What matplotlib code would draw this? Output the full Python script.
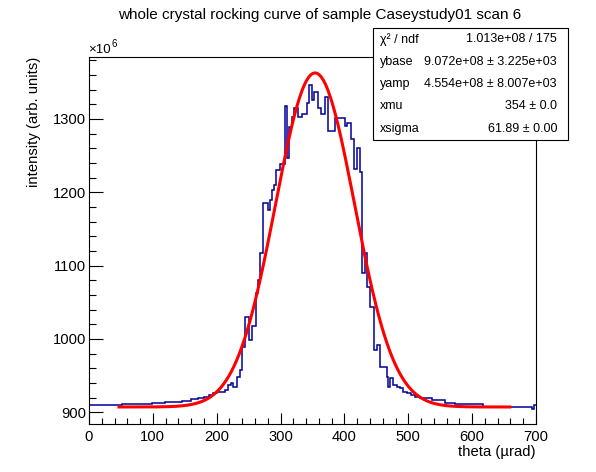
import numpy as np
import matplotlib
matplotlib.use('Agg')
import matplotlib.pyplot as plt
from matplotlib.patches import Rectangle
from matplotlib.ticker import MultipleLocator

plt.rcParams['font.family'] = ['Liberation Sans', 'DejaVu Sans']

# histogram outline (theta in urad, intensity in units of 1e6)
edges = [0, 52, 98, 119, 135, 146, 159, 170, 180, 188,
         194, 200, 213, 218, 223, 226, 231, 236, 240, 245,
         251, 255, 261.5, 265, 268, 272, 281, 283, 286, 289,
         293, 299, 307, 310.5, 313.7, 317.5, 321, 327.4, 333, 342,
         345, 349, 352.5, 359, 363, 370, 373.5, 386, 395, 401,
         403.5, 410, 415, 419, 424.5, 428, 432, 436, 440, 447,
         450.5, 455.7, 466, 469, 471.4, 476.6, 482, 487, 492, 497.5,
         505, 510.5, 518.4, 537, 557, 573, 617, 694, 697, 700]
counts = [910, 911, 912, 913.6, 914.5, 916, 917.6, 919, 920.4, 923.6,
          926.7, 928, 930.4, 937, 939.5, 935, 948.6, 957.7, 989.5, 1030,
          998.6, 1017.7, 1062, 1080, 1117, 1185, 1176, 1190, 1203, 1210,
          1230, 1238, 1317, 1246, 1289.5, 1303, 1315, 1303, 1306, 1321,
          1346, 1326, 1337, 1315, 1306, 1330, 1284, 1301, 1301, 1290,
          1294, 1273, 1232, 1260, 1227, 1089.5, 1117, 1071, 1044, 985,
          992, 962, 948.5, 935, 946.5, 937, 935, 932.7, 928, 926,
          923.6, 921.4, 919, 917, 913, 911, 907.5, 904.5, 910]

# fit result shown in the stats box
ybase = 907.2
yamp = 455.4
xmu = 354.0
xsigma = 61.89
fit_range = (47, 659)

stat_names = ['χ² / ndf', 'ybase', 'yamp', 'xmu', 'xsigma']
stat_values = ['1.013e+08 / 175', '9.072e+08 ± 3.225e+03', '4.554e+08 ± 8.007e+03',
               '354 ± 0.0', '61.89 ± 0.00']

W, H = 596, 472
fig = plt.figure(figsize=(W / 100, H / 100), dpi=100)
ax = fig.add_axes([89 / W, 1 - 424 / H, (536 - 89) / W, (424 - 56.5) / H])

ax.stairs(counts, edges, color='#000099', lw=1.1, baseline=None)
xf = np.linspace(fit_range[0], fit_range[1], 300)
yf = ybase + yamp * np.exp(-0.5 * ((xf - xmu) / xsigma) ** 2)
ax.plot(xf, yf, color='#ff0000', lw=2.2)

ax.set_xlim(0, 700)
ax.set_ylim(884, 1385)
ax.xaxis.set_major_locator(MultipleLocator(100))
ax.xaxis.set_minor_locator(MultipleLocator(20))
ax.yaxis.set_major_locator(MultipleLocator(100))
ax.yaxis.set_minor_locator(MultipleLocator(20))
ax.tick_params(which='both', direction='in', top=False, right=False, width=0.8, labelsize=10.6)
ax.tick_params(axis='x', which='major', length=8, pad=4)
ax.tick_params(axis='x', which='minor', length=4)
ax.tick_params(axis='y', which='major', length=10, pad=2)
ax.tick_params(axis='y', which='minor', length=5)
for s in ax.spines.values():
    s.set_linewidth(0.8)

fig.text(320 / W, 1 - 15 / H, 'whole crystal rocking curve of sample Caseystudy01 scan 6',
         ha='center', va='center', fontsize=11)
fig.text(536 / W, 1 - 452 / H, 'theta (µrad)', ha='right', va='center', fontsize=10.7)
fig.text(34 / W, 1 - 56.5 / H, 'intensity (arb. units)', ha='center', va='top',
         rotation=90, fontsize=10.7)
fig.text(88 / W, 1 - 50 / H, '×10', ha='left', va='center', fontsize=9.5)
fig.text(111.5 / W, 1 - 44 / H, '6', ha='left', va='center', fontsize=7)

# stats box
bx0, by0, bx1, by1 = 373, 28, 568, 140
fig.add_artist(Rectangle((bx0 / W, 1 - by1 / H), (bx1 - bx0) / W, (by1 - by0) / H,
                         transform=fig.transFigure, facecolor='white',
                         edgecolor='black', lw=0.8, zorder=5))
row_h = (by1 - by0) / len(stat_names)
for i, (name, val) in enumerate(zip(stat_names, stat_values)):
    yc = by0 + row_h * (i + 0.5)
    fig.text(380 / W, 1 - yc / H, name, ha='left', va='center', fontsize=9, zorder=6)
    fig.text(557 / W, 1 - yc / H, val, ha='right', va='center', fontsize=9, zorder=6)

fig.savefig('out.png', dpi=100)
